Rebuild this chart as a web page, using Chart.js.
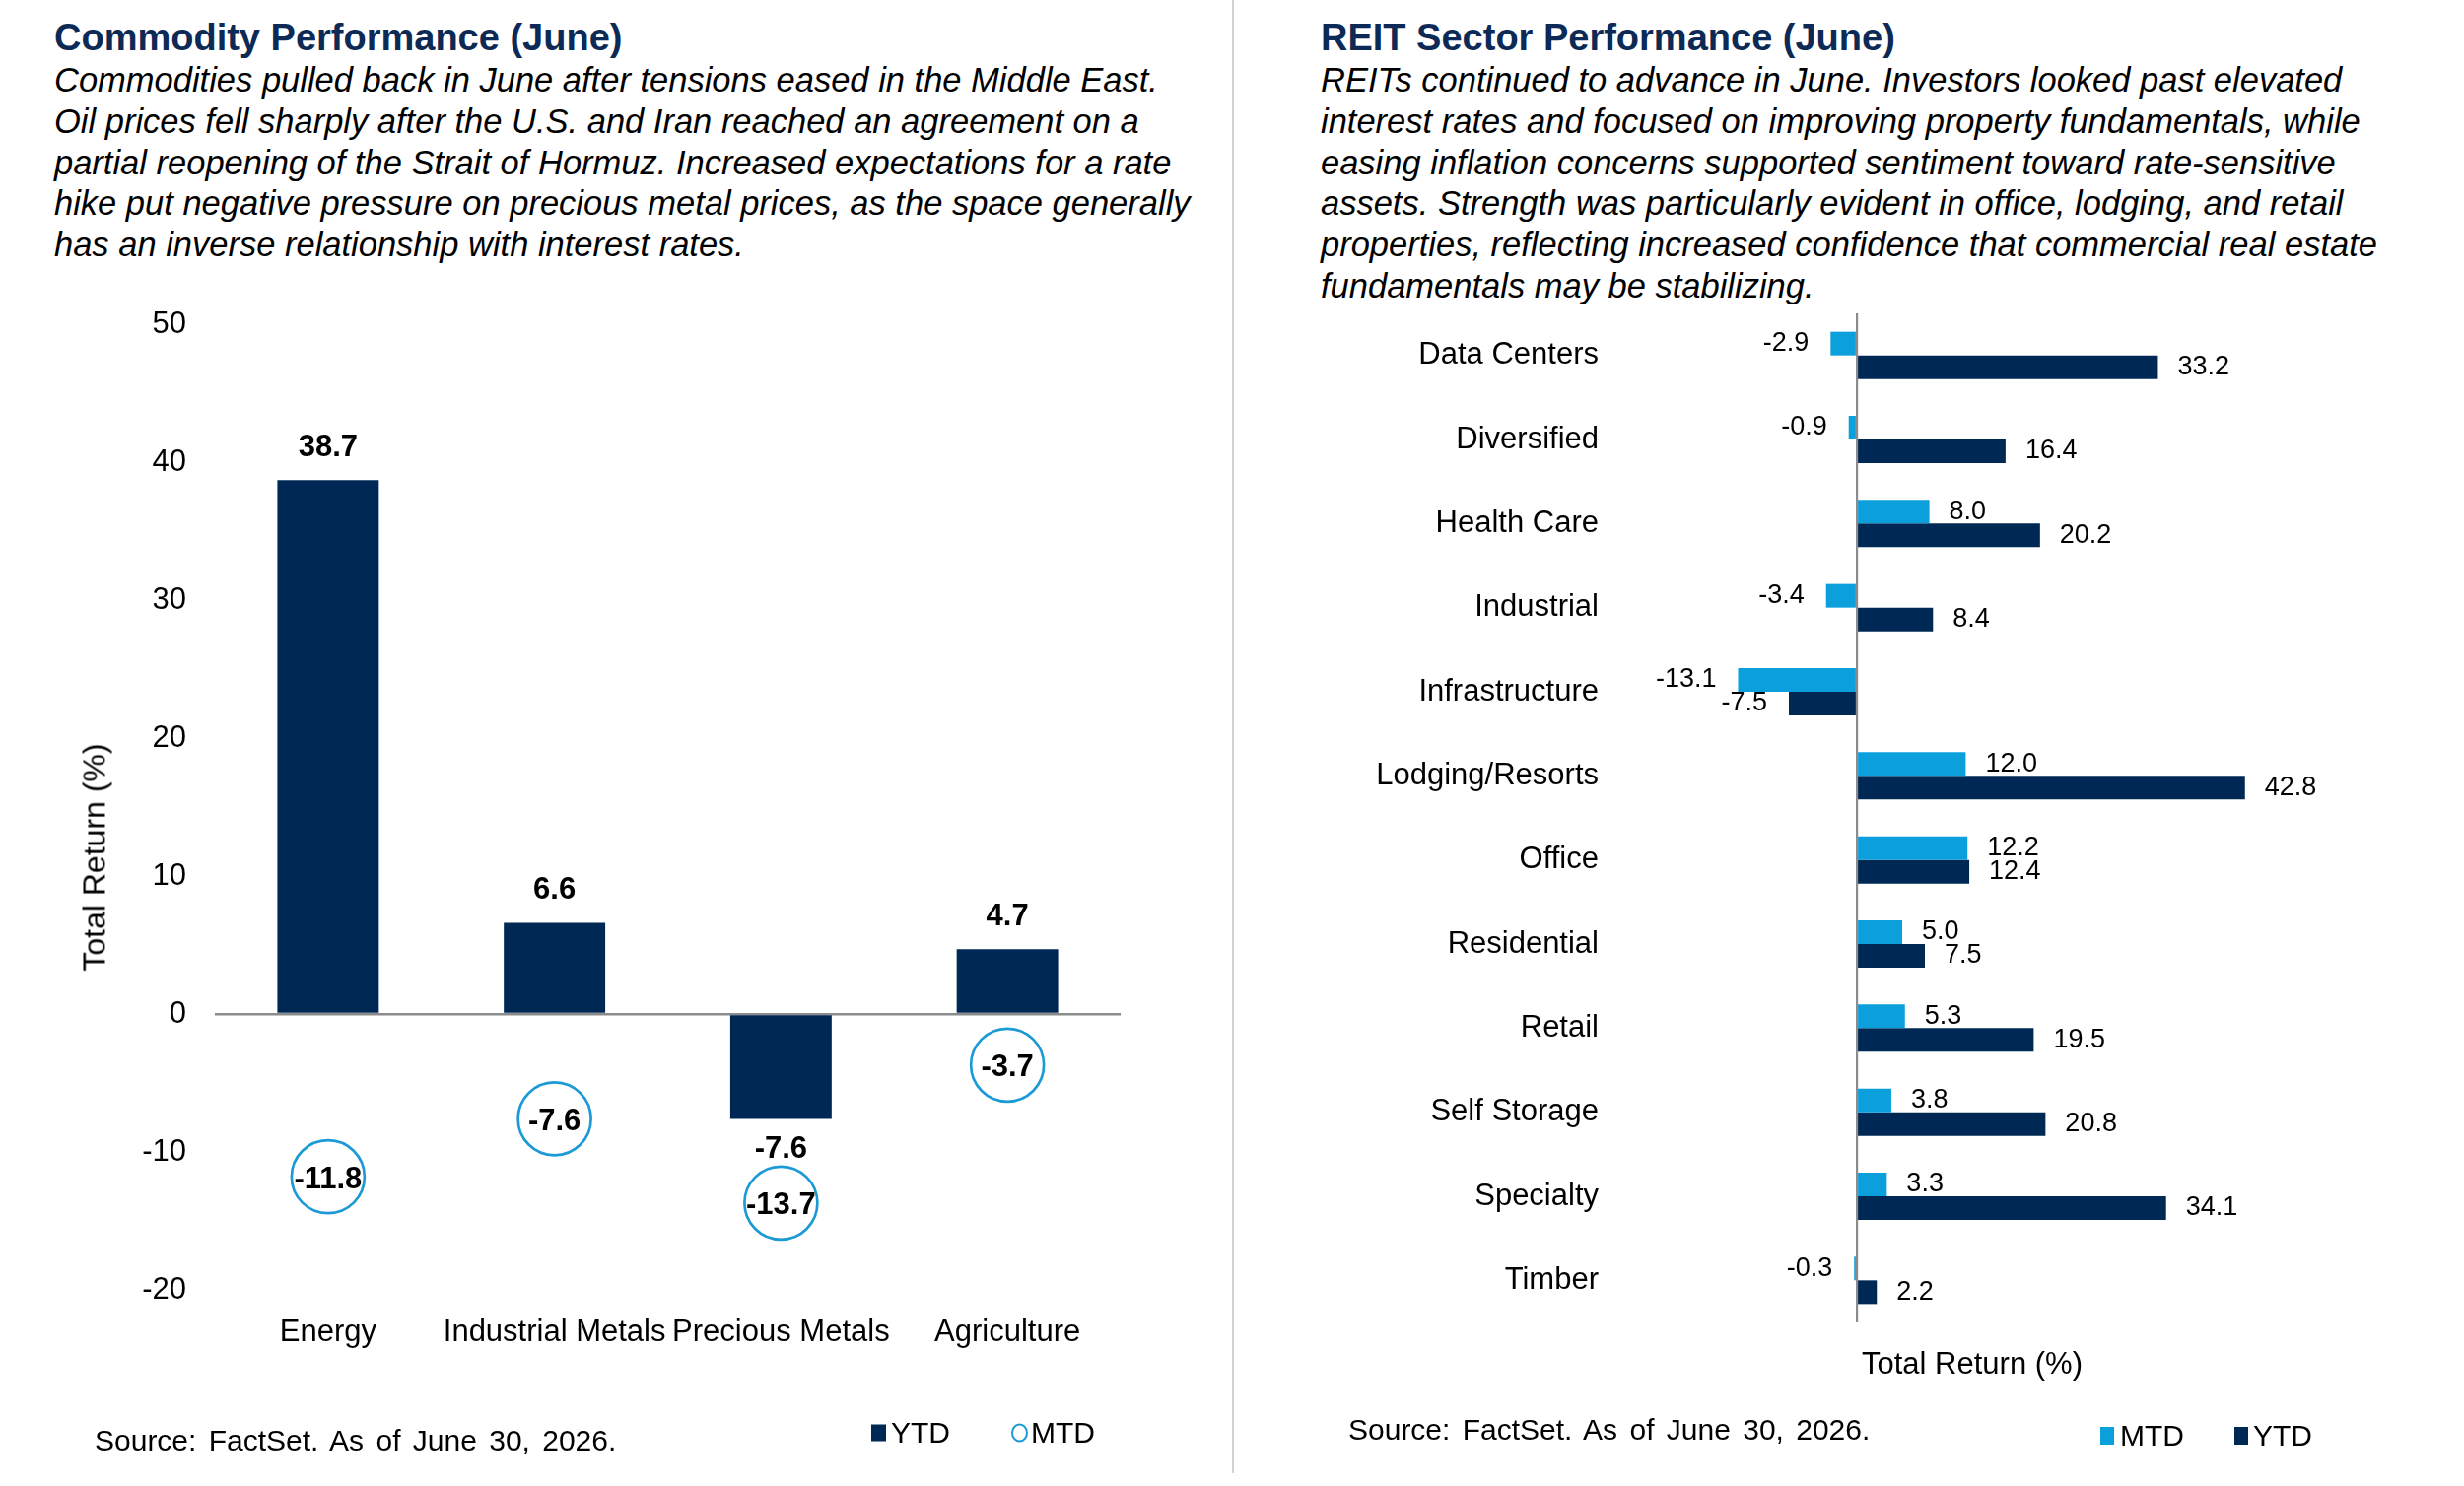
<!DOCTYPE html>
<html>
<head>
<meta charset="utf-8">
<script src="https://cdn.jsdelivr.net/npm/chart.js@4.4.1/dist/chart.umd.min.js"></script>
<style>
    body {
        margin: 0;
        width: 2500px;
        height: 1508px;
        background: #fff;
        position: relative;
        overflow: hidden;
        font-family: "Liberation Sans", Arial, sans-serif;
        color: #000;
    }

    .titulo {
        position: absolute;
        top: 16px;
        font-size: 38px;
        line-height: 44px;
        font-weight: bold;
        color: #0c2a55;
        white-space: nowrap;
    }

    .texto {
        position: absolute;
        top: 61px;
        font-size: 34.5px;
        line-height: 41.8px;
        font-style: italic;
        white-space: nowrap;
    }

    .solto {
        position: absolute;
        white-space: nowrap;
        transform: translateY(-50%);
    }

    canvas {
        position: absolute;
        top: 0;
    }

    #divisor {
        position: absolute;
        left: 1250px;
        top: 0;
        width: 2px;
        height: 1495px;
        background: #d2d2d2;
    }
</style>
</head>
<body>

<div class="titulo" style="left:55px">Commodity Performance (June)</div>
<div class="texto" style="left:55px">
    Commodities pulled back in June after tensions eased in the Middle East.<br>
    Oil prices fell sharply after the U.S. and Iran reached an agreement on a<br>
    partial reopening of the Strait of Hormuz. Increased expectations for a rate<br>
    hike put negative pressure on precious metal prices, as the space generally<br>
    has an inverse relationship with interest rates.
</div>

<div class="titulo" style="left:1340px">REIT Sector Performance (June)</div>
<div class="texto" style="left:1340px">
    REITs continued to advance in June. Investors looked past elevated<br>
    interest rates and focused on improving property fundamentals, while<br>
    easing inflation concerns supported sentiment toward rate-sensitive<br>
    assets. Strength was particularly evident in office, lodging, and retail<br>
    properties, reflecting increased confidence that commercial real estate<br>
    fundamentals may be stabilizing.
</div>

<div id="divisor"></div>

<canvas id="graficoCommodity" width="1251" height="1508" style="left:0"></canvas>
<canvas id="graficoReit" width="1248" height="1508" style="left:1252px"></canvas>

<!-- titulos dos eixos -->
<div class="solto" style="left:96px; top:870px; font-size:32px; transform: translate(-50%, -50%) rotate(-90deg);">Total Return (%)</div>
<div class="solto" style="left:2001px; top:1384px; font-size:31px; transform: translate(-50%, -50%);">Total Return (%)</div>

<!-- legendas -->
<div class="solto" style="left:884px; top:1454px; width:15px; height:17px; background:#002855;"></div>
<div class="solto" style="left:904px; top:1454px; font-size:30px;">YTD</div>
<div class="solto" style="left:1026px; top:1454px; width:13px; height:15px; border:2.7px solid #1c9ad6; border-radius:50%;"></div>
<div class="solto" style="left:1046px; top:1454px; font-size:30px;">MTD</div>

<div class="solto" style="left:2131px; top:1457px; width:14px; height:18px; background:#0b9fdc;"></div>
<div class="solto" style="left:2151px; top:1457px; font-size:30px;">MTD</div>
<div class="solto" style="left:2267px; top:1457px; width:14px; height:18px; background:#002855;"></div>
<div class="solto" style="left:2286px; top:1457px; font-size:30px;">YTD</div>

<!-- fontes -->
<div class="solto" style="left:96px; top:1462px; font-size:30px; word-spacing:4px;">Source: FactSet. As of June 30, 2026.</div>
<div class="solto" style="left:1368px; top:1451px; font-size:30px; word-spacing:4px;">Source: FactSet. As of June 30, 2026.</div>

<script>
    // dados - commodities
    var commodityCategorias = ['Energy', 'Industrial Metals', 'Precious Metals', 'Agriculture'];
    var commodityYTD = [38.7, 6.6, -7.6, 4.7];
    var commodityMTD = [-11.8, -7.6, -13.7, -3.7];
    var commodityTicks = [-20, -10, 0, 10, 20, 30, 40, 50];

    // dados - REITs
    var reitCategorias = ['Data Centers', 'Diversified', 'Health Care', 'Industrial', 'Infrastructure',
        'Lodging/Resorts', 'Office', 'Residential', 'Retail', 'Self Storage', 'Specialty', 'Timber'];
    var reitMTD = [-2.9, -0.9, 8.0, -3.4, -13.1, 12.0, 12.2, 5.0, 5.3, 3.8, 3.3, -0.3];
    var reitYTD = [33.2, 16.4, 20.2, 8.4, -7.5, 42.8, 12.4, 7.5, 19.5, 20.8, 34.1, 2.2];
    var reitEixo = [-20, 45];

    var corMarinho = '#002855';
    var corAzul = '#0b9fdc';
    var corCirculo = '#1c9ad6';
    var fonte = '"Liberation Sans", Arial, sans-serif';

    Chart.defaults.font.family = fonte;
    Chart.defaults.color = '#000';

    function linhaZero(ctx) {
        return ctx.tick && ctx.tick.value === 0 ? '#8c8c8c' : 'rgba(0,0,0,0)';
    }

    // rotulos de dados do grafico de commodities
    const rotulosCommodity = {
        id: 'rotulosCommodity',
        afterDatasetsDraw(chart) {
            const ctx = chart.ctx;
            ctx.save();
            ctx.font = `bold 31px ${fonte}`;
            ctx.fillStyle = '#000';
            ctx.textAlign = 'center';
            ctx.textBaseline = 'middle';

            chart.getDatasetMeta(0).data.forEach(function (barra, i) {
                let v = commodityYTD[i];
                let y = v >= 0 ? barra.y - 33 : barra.y + 31;
                ctx.fillText(v.toFixed(1), barra.x, y);
            });

            chart.getDatasetMeta(1).data.forEach(function (ponto, i) {
                ctx.fillText(commodityMTD[i].toFixed(1), ponto.x, ponto.y + 3);
            });
            ctx.restore();
        }
    };

    // rotulos de dados do grafico de REITs
    const rotulosReit = {
        id: 'rotulosReit',
        afterDatasetsDraw(chart) {
            const ctx = chart.ctx;
            ctx.save();
            ctx.font = `27px ${fonte}`;
            ctx.fillStyle = '#000';
            ctx.textBaseline = 'middle';

            [reitMTD, reitYTD].forEach(function (serie, d) {
                chart.getDatasetMeta(d).data.forEach(function (barra, i) {
                    let v = serie[i];
                    if (v >= 0) {
                        ctx.textAlign = 'left';
                        ctx.fillText(v.toFixed(1), barra.x + 20, barra.y);
                    } else {
                        ctx.textAlign = 'right';
                        ctx.fillText(v.toFixed(1), barra.x - 22, barra.y);
                    }
                });
            });
            ctx.restore();
        }
    };

    function plotarCommodity() {
        const tela = document.getElementById('graficoCommodity');

        new Chart(tela, {
            type: 'bar',
            data: {
                labels: commodityCategorias,
                datasets: [{
                    label: 'YTD',
                    data: commodityYTD,
                    backgroundColor: corMarinho,
                    barPercentage: 0.448,
                    categoryPercentage: 1
                }, {
                    type: 'line',
                    label: 'MTD',
                    data: commodityMTD,
                    showLine: false,
                    pointStyle: 'circle',
                    pointRadius: 37,
                    pointBorderWidth: 2.7,
                    pointBorderColor: corCirculo,
                    pointBackgroundColor: 'rgba(255,255,255,0)'
                }]
            },
            options: {
                responsive: false,
                animation: false,
                events: [],
                layout: {
                    padding: { left: 0, right: 114, top: 329, bottom: 119 }
                },
                plugins: {
                    legend: { display: false },
                    tooltip: { enabled: false }
                },
                scales: {
                    x: {
                        grid: { display: false },
                        border: { display: false },
                        ticks: { padding: 17, font: { size: 31 }, maxRotation: 0, autoSkip: false },
                        afterFit: function (escala) { escala.height = 80; }
                    },
                    y: {
                        min: commodityTicks[0],
                        max: commodityTicks[commodityTicks.length - 1],
                        border: { display: false },
                        grid: { color: linhaZero, lineWidth: 2.6, drawTicks: false },
                        ticks: { stepSize: 10, padding: 29, font: { size: 31 } },
                        afterFit: function (escala) { escala.width = 218; }
                    }
                }
            },
            plugins: [rotulosCommodity]
        });
    }

    function plotarReit() {
        const tela = document.getElementById('graficoReit');

        new Chart(tela, {
            type: 'bar',
            data: {
                labels: reitCategorias,
                datasets: [{
                    label: 'MTD',
                    data: reitMTD,
                    backgroundColor: corAzul
                }, {
                    label: 'YTD',
                    data: reitYTD,
                    backgroundColor: corMarinho
                }]
            },
            options: {
                indexAxis: 'y',
                responsive: false,
                animation: false,
                events: [],
                datasets: {
                    bar: { barPercentage: 1, categoryPercentage: 0.563 }
                },
                layout: {
                    padding: { left: 0, right: 202, top: 318, bottom: 166 }
                },
                plugins: {
                    legend: { display: false },
                    tooltip: { enabled: false }
                },
                scales: {
                    x: {
                        min: reitEixo[0],
                        max: reitEixo[1],
                        border: { display: false },
                        grid: { color: linhaZero, lineWidth: 2.2, drawTicks: false },
                        ticks: { display: false, stepSize: 5 },
                        afterFit: function (escala) { escala.height = 0; }
                    },
                    y: {
                        grid: { display: false },
                        border: { display: false },
                        ticks: { padding: 70, font: { size: 31 }, autoSkip: false },
                        afterFit: function (escala) { escala.width = 448; }
                    }
                }
            },
            plugins: [rotulosReit]
        });
    }

    plotarCommodity();
    plotarReit();
</script>
</body>
</html>
